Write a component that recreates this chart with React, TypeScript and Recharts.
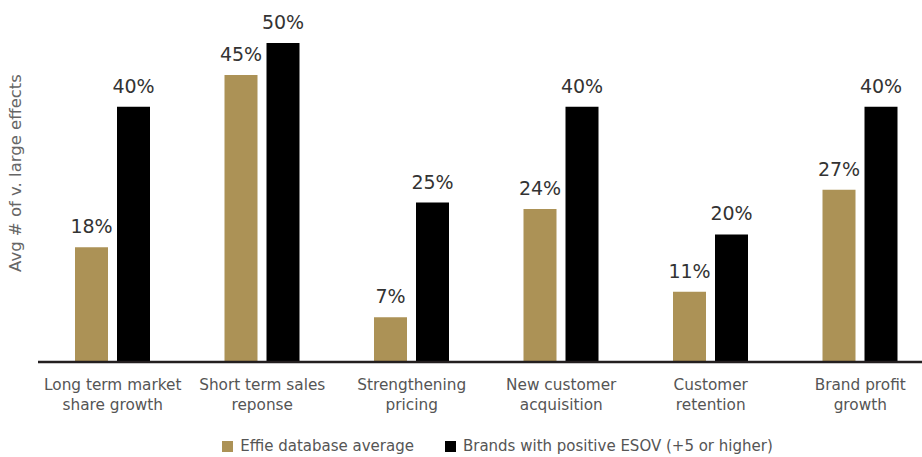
import { BarChart, Bar, XAxis, YAxis, Legend, LabelList } from 'recharts';

const categories = [
  ['Long term market', 'share growth'],
  ['Short term sales', 'reponse'],
  ['Strengthening', 'pricing'],
  ['New customer', 'acquisition'],
  ['Customer', 'retention'],
  ['Brand profit', 'growth'],
];
const effieAverage = [18, 45, 7, 24, 11, 27];
const positiveEsov = [40, 50, 25, 40, 20, 40];
const seriesNames = ['Effie database average', 'Brands with positive ESOV (+5 or higher)'];

const GOLD = '#ac9256';
const FONT = "'DejaVu Sans', sans-serif";

const data = categories.map((lines, i) => ({
  name: lines.join(' '),
  lines,
  effie: effieAverage[i],
  esov: positiveEsov[i],
}));

const CategoryTick = (props: any) => {
  const { x, y, index } = props;
  const lines = categories[index] || [];
  return (
    <text x={x} y={y} textAnchor="middle" fill="#555" fontSize={15.3} fontFamily={FONT}>
      {lines.map((l, i) => (
        <tspan key={i} x={x} dy={i === 0 ? 28 : 20}>
          {l}
        </tspan>
      ))}
    </text>
  );
};

const LegendBox = () => (
  <div
    style={{
      height: 22,
      display: 'flex',
      justifyContent: 'center',
      alignItems: 'center',
      gap: 31,
      fontFamily: FONT,
      fontSize: 15,
      color: '#555',
      paddingLeft: 60,
    }}
  >
    {[GOLD, '#000'].map((c, i) => (
      <div key={i} style={{ display: 'flex', alignItems: 'center' }}>
        <span style={{ width: 11, height: 11, background: c, marginRight: 7, display: 'inline-block' }} />
        <span>{seriesNames[i]}</span>
      </div>
    ))}
  </div>
);

export default function App() {
  return (
    <div style={{ position: 'absolute', left: 0, top: 0, background: '#fff' }}>
      <BarChart
        width={922}
        height={457}
        data={data}
        margin={{ top: 43, right: -13, left: 0, bottom: 0 }}
        barSize={33}
        barGap={9}
      >
        <YAxis
          width={38}
          domain={[0, 50]}
          tick={false}
          axisLine={false}
          tickLine={false}
          label={{
            content: () => (
              <text
                x={21}
                y={173}
                transform="rotate(-90 21 173)"
                textAnchor="middle"
                fill="#666"
                fontSize={16.5}
                fontFamily={FONT}
              >
                Avg # of v. large effects
              </text>
            ),
          }}
        />
        <XAxis
          dataKey="name"
          height={73}
          tickLine={false}
          tickSize={0}
          tickMargin={0}
          interval={0}
          axisLine={{ stroke: '#231f20', strokeWidth: 2.5 }}
          tick={<CategoryTick />}
        />
        <Legend verticalAlign="bottom" content={<LegendBox />} />
        <Bar dataKey="effie" fill={GOLD} isAnimationActive={false}>
          <LabelList
            dataKey="effie"
            position="top"
            offset={14}
            formatter={(v: any) => `${v}%`}
            fill="#333"
            fontSize={19}
            fontFamily={FONT}
          />
        </Bar>
        <Bar dataKey="esov" fill="#000" isAnimationActive={false}>
          <LabelList
            dataKey="esov"
            position="top"
            offset={14}
            formatter={(v: any) => `${v}%`}
            fill="#333"
            fontSize={19}
            fontFamily={FONT}
          />
        </Bar>
      </BarChart>
    </div>
  );
}
